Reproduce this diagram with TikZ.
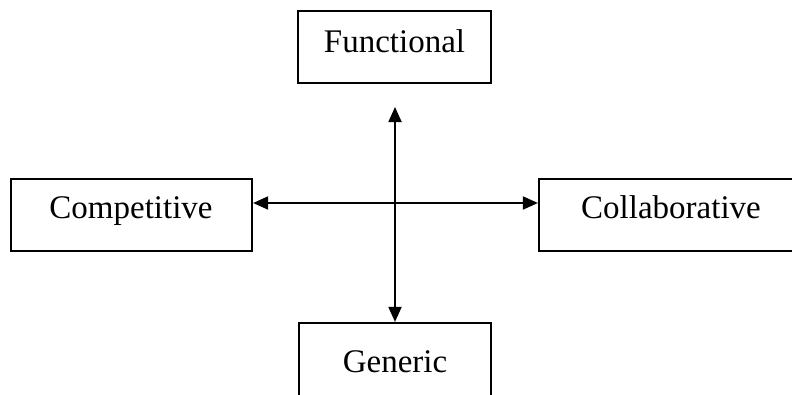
\documentclass[tikz,border=0pt]{standalone}
\usepackage{fontspec}
\setmainfont{Liberation Serif}
\usetikzlibrary{arrows.meta}
\begin{document}
\begin{tikzpicture}[x=1pt,y=-1pt,
  box/.style={draw=black, line width=2.2pt, rectangle, inner sep=0pt},
  lbl/.style={anchor=base, inner sep=0pt, font=\fontsize{33}{40}\selectfont},
  link/.style={line width=1.8pt, {Triangle[length=15pt,width=13pt]}-{Triangle[length=15pt,width=13pt]}}]
  \useasboundingbox (0,0) rectangle (792,394);
  \clip (0,0) rectangle (792,394);
  % four boxes
  \node[box, minimum width=193pt, minimum height=72pt] (fun) at (394.5,47) {};
  \node[box, minimum width=241pt, minimum height=72pt] (comp) at (131.5,215) {};
  \node[box, minimum width=261pt, minimum height=72pt] (coll) at (669.5,215) {};
  \node[box, minimum width=192pt, minimum height=77pt] (gen) at (395,361.5) {};
  % labels
  \node[lbl] (funt) at (394.5,52) {Functional};
  \node[lbl] (compt) at (131,218) {Competitive};
  \node[lbl] (collt) at (671,218) {Collaborative};
  \node[lbl] (gent) at (395,372) {Generic};
  % axes
  \coordinate (vtop) at (395,107);
  \coordinate (hc) at (395,203);
  \draw[link] (vtop) -- (gen.north);
  \draw[link] (hc -| comp.east) -- (hc -| coll.west);
\end{tikzpicture}
\end{document}
